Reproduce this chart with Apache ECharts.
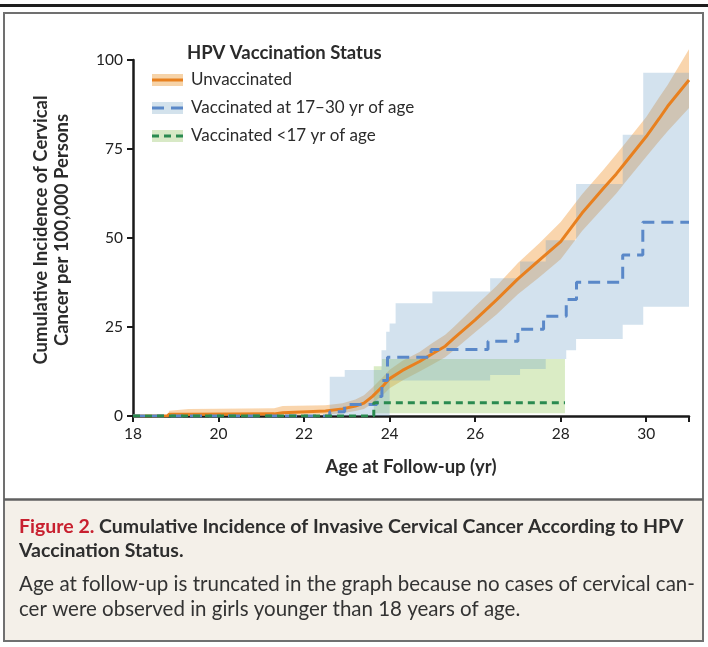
<!DOCTYPE html>
<html>
<head>
<meta charset="utf-8">
<script src="https://cdn.jsdelivr.net/npm/echarts@6/dist/echarts.min.js"></script>
<style>
html,body{margin:0;padding:0;background:#fff;}
#chart{width:708px;height:647px;}
</style>
</head>
<body>
<div id="chart"></div>
<script>
// ---------- data ----------
const xTicks = [18, 20, 22, 24, 26, 28, 30];
const yTicks = [0, 25, 50, 75, 100];

// Unvaccinated: estimate and 95% CI
const ageO = [18, 18.8, 18.85, 19.3, 21.3, 21.5, 22.5, 22.9, 23.2, 23.4, 23.6, 23.85, 24.0, 24.3, 24.7, 25.0, 25.3, 25.5, 26.0, 26.5, 27.0, 27.5, 28.0, 28.5, 29.0, 29.3, 29.5, 30.0, 30.3, 30.5, 31.0];
const estO = [0, 0, 0.5, 0.5, 0.6, 0.9, 1.4, 2.0, 2.8, 3.6, 5.5, 8.5, 10.5, 12.8, 15.3, 17.5, 19.6, 21.8, 27, 32.6, 38.5, 43.8, 49, 57, 64, 68, 71, 78.5, 83.5, 87, 94.4];
const loO  = [0, 0, 0, 0, 0.1, 0.2, 0.4, 0.8, 1.4, 2.0, 3.5, 6, 7.8, 10, 12.5, 14.5, 16.5, 18.5, 23.5, 28.5, 34.2, 39, 44, 52, 58.6, 62.5, 65.5, 72.8, 77.2, 80, 86.5];
const hiO  = [0, 0, 1.5, 2.0, 2.2, 2.8, 3.0, 3.6, 4.6, 5.8, 8, 11, 13, 15.5, 18, 20.5, 22.8, 25, 30.8, 36.5, 43, 48.5, 54.5, 62.3, 69.2, 73.5, 76.5, 84, 89.5, 93, 103];

// Vaccinated at 17-30 yr of age (step function)
const ageB = [18, 22.6, 22.95, 23.7, 23.82, 23.95, 24.97, 26.3, 27.0, 27.6, 28.13, 28.37, 29.45, 29.92, 31];
const estB = [0, 1.2, 3.2, 5.5, 10, 16.5, 18.7, 21, 24.4, 28, 32.7, 37.6, 45.2, 54.4, 54.4];
const ageBci = [22.6, 22.95, 23.81, 23.92, 24.0, 24.14, 25.0, 26.35, 27.05, 27.65, 28.13, 28.36, 29.45, 29.93, 31];
const loB  = [0, 0, 0, 0, 10, 10, 10, 11.5, 13.2, 16, 18.5, 21.6, 25.6, 30.7, 30.7];
const hiB  = [11, 12.9, 18.5, 23.7, 26, 31.7, 35, 38.7, 43.4, 49.4, 49.4, 65.2, 79, 96.4, 96.4];

// Vaccinated <17 yr of age (step function)
const ageG = [18, 23.63, 28.1];
const estG = [0, 3.7, 3.7];
const ageGci = [23.63, 23.82, 28.1];
const loG  = [0.8, 0.8, 0.8];
const hiG  = [14, 16, 16];

const seriesNames = ['Unvaccinated', 'Vaccinated at 17\u201330 yr of age', 'Vaccinated <17 yr of age'];

// ---------- styles ----------
const FONT = 'Lato, "Open Sans", sans-serif';
const C_OR = '#e8801f', C_OR_BAND = 'rgba(240,150,50,0.40)';
const C_BL = '#5a88c8', C_BL_BAND = 'rgba(110,160,200,0.30)';
const C_GR = '#2a8a50', C_GR_BAND = 'rgba(150,200,90,0.35)';

function pairs(xs, ys) { return xs.map((x, i) => [x, ys[i]]); }

function band(name, xs, lo, hi, color, step, z) {
  return {
    type: 'custom', name: name, z: z, silent: true, clip: false,
    data: xs.map((x, i) => [x, lo[i], hi[i]]),
    encode: { x: 0, y: [1, 2] },
    renderItem: function (params, api) {
      if (params.dataIndexInside !== 0) return null;
      const n = params.dataInsideLength;
      const top = [], bot = [];
      for (let i = 0; i < n; i++) {
        const x = api.value(0, i), l = api.value(1, i), h = api.value(2, i);
        if (step && i > 0) {
          const pl = api.value(1, i - 1), ph = api.value(2, i - 1);
          top.push(api.coord([x, ph]));
          bot.push(api.coord([x, pl]));
        }
        top.push(api.coord([x, h]));
        bot.push(api.coord([x, l]));
      }
      return { type: 'polygon', shape: { points: top.concat(bot.reverse()) }, style: { fill: color } };
    }
  };
}

const chart = echarts.init(document.getElementById('chart'), null, { renderer: 'canvas' });

// legend graphic
const legendRows = [
  { y: 80, band: '#f6d3a8', color: C_OR, dash: null, w: 3 },
  { y: 108, band: '#d3e2ec', color: C_BL, dash: [12, 7], w: 3 },
  { y: 136, band: '#d8e9c6', color: C_GR, dash: [7, 5], w: 3 }
];
const legendGraphics = [];
legendGraphics.push({ type: 'text', x: 187, y: 53, style: { text: 'HPV Vaccination Status', font: 'bold 18.5px ' + FONT, fill: '#2b2b2b', textVerticalAlign: 'middle', verticalAlign: 'middle' } });
legendRows.forEach((r, i) => {
  legendGraphics.push({ type: 'rect', shape: { x: 152, y: r.y - 6, width: 31, height: 12 }, style: { fill: r.band } });
  legendGraphics.push({ type: 'line', shape: { x1: 152, y1: r.y, x2: 183, y2: r.y }, style: { stroke: r.color, lineWidth: r.w, lineDash: r.dash || null } });
  legendGraphics.push({ type: 'text', x: 191, y: r.y, style: { text: seriesNames[i], font: '17px ' + FONT, fill: '#2b2b2b', textVerticalAlign: 'middle', verticalAlign: 'middle' } });
});

const option = {
  animation: false,
  backgroundColor: '#ffffff',
  grid: { left: 133, right: 19, top: 60, bottom: 231, containLabel: false },
  xAxis: {
    type: 'value', min: 18, max: 31, interval: 2,
    name: 'Age at Follow-up (yr)', nameLocation: 'middle', nameGap: 42,
    nameTextStyle: { fontFamily: FONT, fontWeight: 'bold', fontSize: 18.5, color: '#2b2b2b' },
    axisLine: { show: true, lineStyle: { color: '#1a1a1a', width: 2.5 } },
    axisTick: { show: true, inside: false, length: 6, lineStyle: { color: '#1a1a1a', width: 2 } },
    axisLabel: { fontFamily: FONT, fontSize: 15.5, color: '#222', margin: 10,
      formatter: v => xTicks.indexOf(v) >= 0 ? String(v) : '' },
    splitLine: { show: false }
  },
  yAxis: {
    type: 'value', min: 0, max: 100, interval: 25,
    axisLine: { show: true, onZero: false, lineStyle: { color: '#1a1a1a', width: 2.5 } },
    axisTick: { show: true, inside: false, length: 6, lineStyle: { color: '#1a1a1a', width: 2 } },
    axisLabel: { fontFamily: FONT, fontSize: 15.5, color: '#222', margin: 10,
      formatter: v => yTicks.indexOf(v) >= 0 ? String(v) : '' },
    splitLine: { show: false }
  },
  series: [
    band('Unvaccinated CI', ageO, loO, hiO, C_OR_BAND, false, 1),
    band('Vaccinated <17 CI', ageGci, loG, hiG, C_GR_BAND, true, 2),
    band('Vaccinated 17-30 CI', ageBci, loB, hiB, C_BL_BAND, true, 3),
    { type: 'line', name: seriesNames[0], data: pairs(ageO, estO), showSymbol: false, symbol: 'none', z: 5,
      lineStyle: { color: C_OR, width: 3 } },
    { type: 'line', name: seriesNames[1], data: pairs(ageB, estB), step: 'end', showSymbol: false, symbol: 'none', z: 6,
      lineStyle: { color: C_BL, width: 3, type: [12, 7] } },
    { type: 'line', name: seriesNames[2], data: pairs(ageG, estG), step: 'end', showSymbol: false, symbol: 'none', z: 7,
      lineStyle: { color: C_GR, width: 3, type: [7, 5] } }
  ],
  graphic: [
    // frame
    { type: 'rect', z: -10, shape: { x: 0, y: 4, width: 708, height: 3 }, style: { fill: '#1e1e1e' } },
    { type: 'rect', z: -10, shape: { x: 5, y: 500, width: 697, height: 140 }, style: { fill: '#f4f0e9' } },
    { type: 'rect', z: -9, shape: { x: 4, y: 13, width: 699, height: 628 }, style: { fill: null, stroke: '#707070', lineWidth: 2 } },
    { type: 'line', z: -9, shape: { x1: 4, y1: 499.5, x2: 703, y2: 499.5 }, style: { stroke: '#606060', lineWidth: 2.5 } },
    // y-axis title
    { type: 'text', x: 52, y: 230, rotation: Math.PI / 2,
      style: { text: 'Cumulative Incidence of Cervical\nCancer per 100,000 Persons', font: 'bold 18.5px ' + FONT, lineHeight: 21,
        fill: '#2b2b2b', textAlign: 'center', align: 'center', textVerticalAlign: 'middle', verticalAlign: 'middle' } },
    // caption
    { type: 'text', x: 19, y: 527,
      style: { text: '{r|Figure 2.} {b|Cumulative Incidence of Invasive Cervical Cancer According to HPV}',
        rich: { r: { font: 'bold 19.5px ' + FONT, fill: '#c8202f', fontFamily: FONT, fontWeight: 'bold', fontSize: 19.5, color: '#c8202f' },
                b: { font: 'bold 19.5px ' + FONT, fill: '#2e2e2e', fontFamily: FONT, fontWeight: 'bold', fontSize: 19.5, color: '#2e2e2e' } },
        font: 'bold 19.5px ' + FONT, textVerticalAlign: 'middle', verticalAlign: 'middle' } },
    { type: 'text', x: 19, y: 551,
      style: { text: 'Vaccination Status.', font: 'bold 19.5px ' + FONT, fill: '#2e2e2e', textVerticalAlign: 'middle', verticalAlign: 'middle' } },
    { type: 'text', x: 19, y: 584,
      style: { text: 'Age at follow-up is truncated in the graph because no cases of cervical can-', font: '20.5px ' + FONT, fill: '#333', textVerticalAlign: 'middle', verticalAlign: 'middle' } },
    { type: 'text', x: 19, y: 609,
      style: { text: 'cer were observed in girls younger than 18 years of age.', font: '20.5px ' + FONT, fill: '#333', textVerticalAlign: 'middle', verticalAlign: 'middle' } }
  ].concat(legendGraphics)
};
chart.setOption(option);
</script>
</body>
</html>
